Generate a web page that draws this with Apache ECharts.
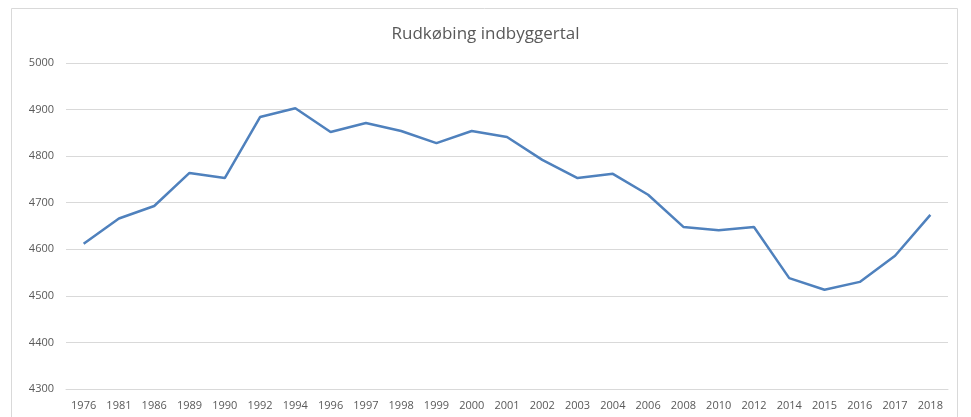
<!DOCTYPE html>
<html>
<head>
<meta charset="utf-8">
<script src="https://cdn.jsdelivr.net/npm/echarts@6/dist/echarts.min.js"></script>
<style>html,body{margin:0;padding:0;background:#fff}#c{width:971px;height:417px}</style>
</head>
<body>
<div id="c"></div>
<script>
var years = ['1976','1981','1986','1989','1990','1992','1994','1996','1997','1998','1999','2000','2001','2002','2003','2004','2006','2008','2010','2012','2014','2015','2016','2017','2018'];
var population = [4612,4666,4693,4764,4753,4884,4903,4852,4871,4854,4828,4854,4841,4792,4753,4762,4717,4648,4641,4648,4538,4513,4530,4586,4674];
var yTicks = [4300,4400,4500,4600,4700,4800,4900,5000];

var chart = echarts.init(document.getElementById('c'), null, {renderer:'canvas'});
chart.setOption({
  animation:false,
  backgroundColor:'#fff',
  graphic:[{type:'rect',shape:{x:11.5,y:8.5,width:946,height:420},style:{fill:'none',stroke:'#d9d9d9',lineWidth:1},silent:true,z:-1}],
  title:{text:'Rudkøbing indbyggertal',left:'center',top:21,textStyle:{fontFamily:'Open Sans',fontSize:17,fontWeight:'normal',color:'#595959'}},
  grid:{left:66,right:23,top:63,bottom:28},
  xAxis:{type:'category',data:years,boundaryGap:true,
    axisLine:{show:true,lineStyle:{color:'#d9d9d9'}},axisTick:{show:false},
    axisLabel:{interval:0,color:'#595959',fontFamily:'Open Sans',fontSize:11,margin:11}},
  yAxis:{type:'value',min:yTicks[0],max:yTicks[yTicks.length-1],interval:100,
    axisLine:{show:false},axisTick:{show:false},
    splitLine:{lineStyle:{color:'#d9d9d9',width:1}},
    axisLabel:{color:'#595959',fontFamily:'Open Sans',fontSize:11,margin:12,formatter:function(v){return String(v);}}},
  series:[{type:'line',data:population,symbol:'none',lineStyle:{color:'#4f81bd',width:2.5},z:3}]
});
</script>
</body>
</html>
